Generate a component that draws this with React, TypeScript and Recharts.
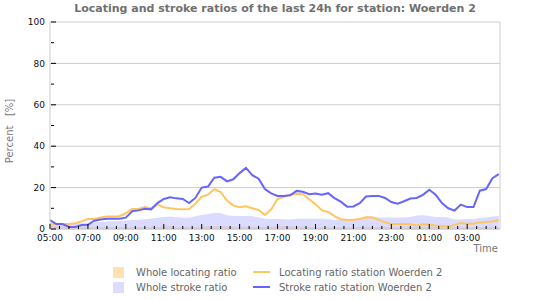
import { Area, CartesianGrid, ComposedChart, Line, ReferenceLine, XAxis, YAxis } from 'recharts'

// samples every 20 minutes starting at 05:00
const strokeStation = [
  4.3, 2.4, 2.4, 1, 1, 1.9, 2, 4, 4.6, 5, 5, 5, 5.5, 8.6, 9, 9.8, 9.5, 12.5, 14.5, 15.3, 14.8, 14.5, 12.5, 15,
  20, 20.5, 24.8, 25.2, 23, 24, 27, 29.5, 26, 24.3, 19.3, 17.2, 16, 16, 16.3, 18.4, 18, 16.8, 17.1, 16.6, 17.3, 14.9, 13.2, 10.8,
  10.9, 12.5, 15.7, 16, 16, 15, 13, 12.2, 13.4, 14.7, 15, 16.5, 19, 16.6, 12.5, 10, 8.9, 11.8, 10.6, 10.6, 18.5, 19.3, 24.5, 26.5,
]
const locatingStation = [
  2.5, 2.4, 2.4, 2.45, 2.8, 3.7, 4.8, 4.8, 5.6, 6, 6, 6.2, 7.6, 9.7, 9.7, 10.6, 9.9, 11.8, 10.5, 10, 9.7, 9.6, 9.7, 12.2,
  15.6, 16.6, 19.2, 17.8, 13.7, 11.3, 10.5, 11, 10, 9.2, 6.8, 9.5, 14.5, 15.6, 16.5, 17, 16.9, 14.4, 12, 9, 8.3, 6.2, 4.7, 4.4,
  4.5, 4.8, 5.7, 5.6, 4.4, 3.2, 2.4, 2.4, 2.4, 2.3, 1.7, 2.3, 2, 1.7, 1.5, 1.2, 2, 2.9, 2.5, 2.5, 3.2, 3.4, 3.6, 4.3,
]
const wholeStroke = [
  2.8, 2.6, 2.5, 2.5, 2.6, 2.8, 3, 3.2, 3.4, 3.6, 3.7, 3.9, 4.1, 4.3, 4.5, 4.7, 4.9, 5.4, 5.8, 6, 5.7, 5.4, 5.4, 6.1,
  6.8, 7.2, 7.7, 7.7, 6.6, 6.3, 6.3, 6.3, 6.3, 5.5, 4.9, 4.8, 4.8, 4.7, 4.6, 5, 5, 5, 4.9, 4.9, 4.8, 4.4, 4.5, 4.6,
  4.6, 4.6, 6.2, 6, 5.6, 5.5, 5.5, 5.5, 5.5, 5.8, 6.5, 6.6, 6.3, 5.8, 5.8, 5.5, 4.6, 4.6, 4.8, 4.7, 5.3, 5.6, 6, 6.3,
]
const wholeLocating = [
  1.6, 1.5, 1.4, 1.3, 1.2, 1.2, 1.1, 1.1, 1, 1, 1, 1, 1, 1.1, 1.1, 1, 1, 1.1, 1.2, 1.2, 1.1, 1.1, 1, 1.1,
  1.2, 1.3, 1.3, 1.2, 1.2, 1.2, 1.1, 1.1, 1.1, 1, 1, 1.1, 1.3, 1.4, 1.3, 1.2, 1.1, 1, 0.9, 0.9, 0.9, 0.8, 0.8, 0.9,
  0.9, 1, 1.1, 1.1, 1, 1, 1, 1, 1, 1, 1.1, 1.1, 1.1, 1, 1, 0.9, 0.9, 0.9, 0.9, 1, 1, 1.1, 1.1, 1.1,
]
const hourLabels = ['05:00', '07:00', '09:00', '11:00', '13:00', '15:00', '17:00', '19:00', '21:00', '23:00', '01:00', '03:00']
const yTicks = [0, 10, 20, 30, 40, 50, 60, 70, 80, 90, 100]

const X_MAX = 23.73
const data = strokeStation.map((v, i) => ({
  t: i / 3,
  stroke: v,
  locating: locatingStation[i],
  wholeStroke: wholeStroke[i],
  wholeLocating: wholeLocating[i],
}))
const xTicks = Array.from({ length: 48 }, (_, i) => i / 2)

const BLUE = '#6666ff'
const ORANGE = '#ffc660'
const font = "'DejaVu Sans', sans-serif"

function XTick({ x, y, payload }: any) {
  const v = payload.value
  const major = v % 2 === 0
  return (
    <g>
      <line x1={x} x2={x} y1={y} y2={y - (major ? 5 : 3)} stroke="#000" />
      {major && (
        <text x={x} y={y + 12} textAnchor="middle" fontSize={9} fontFamily={font} fill="#111">
          {hourLabels[v / 2]}
        </text>
      )}
    </g>
  )
}

function YTick({ x, y, payload }: any) {
  const v = payload.value
  const major = v % 20 === 0
  return (
    <g>
      <line x1={x + 1} x2={x + (major ? 6 : 4)} y1={y} y2={y} stroke="#000" />
      {major && (
        <text x={x - 5} y={y} dy="0.35em" textAnchor="end" fontSize={9} fontFamily={font} fill="#111">
          {v}
        </text>
      )}
    </g>
  )
}

const legendItems = [
  { label: 'Whole locating ratio', kind: 'box', color: '#ffe0b0', col: 0, row: 0 },
  { label: 'Locating ratio station Woerden 2', kind: 'line', color: ORANGE, col: 1, row: 0 },
  { label: 'Whole stroke ratio', kind: 'box', color: '#dcdcff', col: 0, row: 1 },
  { label: 'Stroke ratio station Woerden 2', kind: 'line', color: BLUE, col: 1, row: 1 },
]

export default function App() {
  return (
    <div style={{ position: 'absolute', left: 0, top: 0, width: 550, height: 300, background: '#fff', fontFamily: font }}>
      <div
        style={{
          position: 'absolute',
          left: 0,
          width: 550,
          top: 2,
          textAlign: 'center',
          fontSize: 11,
          fontWeight: 'bold',
          color: '#707070',
        }}
      >
        Locating and stroke ratios of the last 24h for station: Woerden 2
      </div>
      <div
        style={{
          position: 'absolute',
          left: 9,
          top: 131,
          transform: 'translate(-50%, -50%) rotate(-90deg)',
          fontSize: 10,
          color: '#777',
          whiteSpace: 'pre',
        }}
      >
        {'Percent   [%]'}
      </div>
      <div style={{ position: 'absolute', right: 52, top: 243, fontSize: 10, color: '#777' }}>Time</div>
      <ComposedChart width={550} height={300} data={data} margin={{ top: 22, right: 50, bottom: 0, left: 0 }}>
        <CartesianGrid horizontalValues={[0, 20, 40, 60, 80, 100]} vertical={false} stroke="#cccccc" />
        <XAxis
          dataKey="t"
          type="number"
          domain={[0, X_MAX]}
          ticks={xTicks}
          interval={0}
          tickSize={0}
          tickMargin={0}
          tickLine={false}
          axisLine={{ stroke: '#cccccc' }}
          tick={<XTick />}
          height={71}
        />
        <YAxis
          domain={[0, 100]}
          ticks={yTicks}
          interval={0}
          width={50}
          tickSize={0}
          tickMargin={0}
          tickLine={false}
          axisLine={{ stroke: '#cccccc' }}
          tick={<YTick />}
        />
        <ReferenceLine x={X_MAX} stroke="#cccccc" />
        <Area
          type="linear"
          dataKey="wholeLocating"
          fill="#ffd9a0"
          fillOpacity={0.8}
          stroke="none"
          isAnimationActive={false}
        />
        <Line type="linear" dataKey="locating" stroke={ORANGE} strokeWidth={2} dot={false} isAnimationActive={false} />
        <Area
          type="linear"
          dataKey="wholeStroke"
          fill="#b8b8ff"
          fillOpacity={0.5}
          stroke="none"
          isAnimationActive={false}
        />
        <Line type="linear" dataKey="stroke" stroke={BLUE} strokeWidth={2} dot={false} isAnimationActive={false} />
      </ComposedChart>
      {legendItems.map((item) => {
        const left = item.col === 0 ? 113 : 253
        const top = item.row === 0 ? 266 : 281
        return (
          <div key={item.label} style={{ position: 'absolute', left, top, height: 12, display: 'flex', alignItems: 'center' }}>
            {item.kind === 'box' ? (
              <div style={{ width: 11, height: 11, background: item.color }} />
            ) : (
              <div style={{ width: 17, height: 2, background: item.color }} />
            )}
            <span style={{ marginLeft: item.kind === 'box' ? 12 : 9, fontSize: 10, color: '#666', whiteSpace: 'nowrap' }}>
              {item.label}
            </span>
          </div>
        )
      })}
    </div>
  )
}
